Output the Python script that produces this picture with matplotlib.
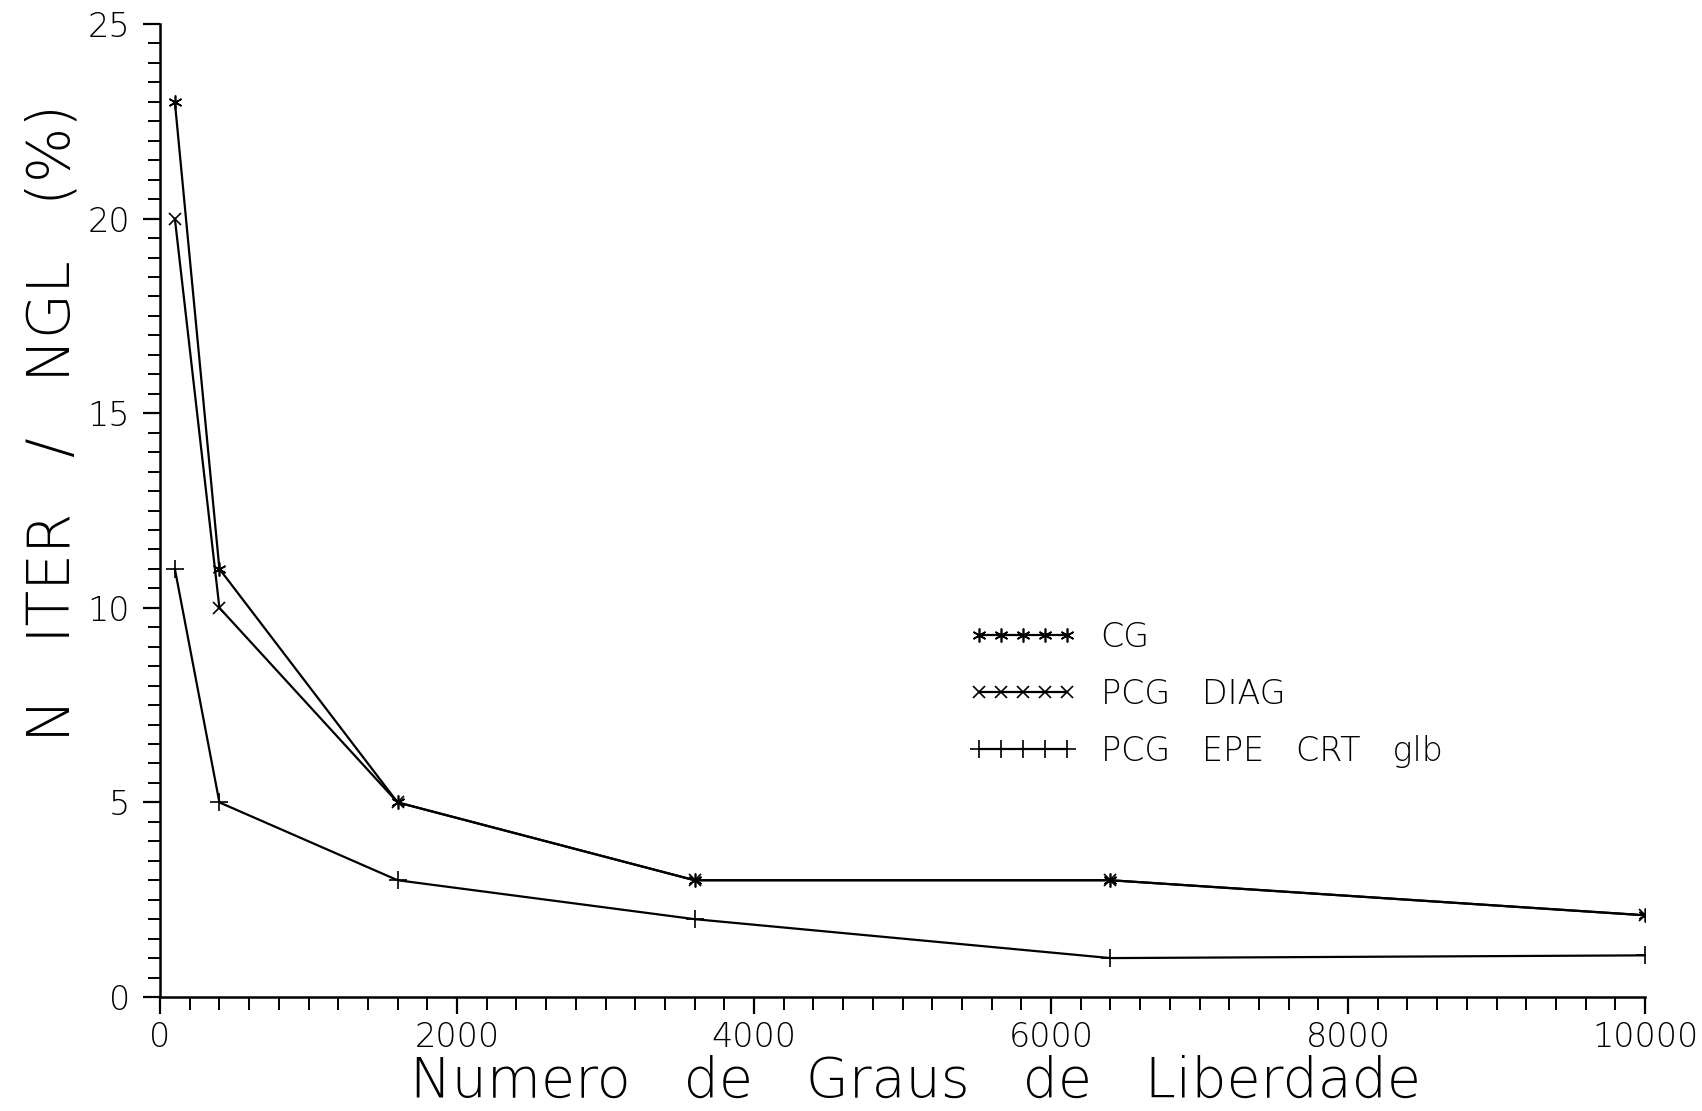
import matplotlib
matplotlib.use("Agg")
import matplotlib.pyplot as plt
from matplotlib.ticker import MultipleLocator

plt.rcParams['font.family'] = ['DejaVu Sans']

# Data
ngl = [100, 400, 1600, 3600, 6400, 10000]
cg = [23, 11, 5, 3, 3, 2.1]
pcg_diag = [20, 10, 5, 3, 3, 2.1]
pcg_epe = [11, 5, 3, 2, 1.0, 1.07]
labels = ["CG", "PCG   DIAG", "PCG   EPE   CRT   glb"]
xlabel = "Numero   de   Graus   de   Liberdade"
ylabel = "N   ITER   /   NGL   (%)"

W, H = 1702, 1111
fig = plt.figure(figsize=(W / 100, H / 100), dpi=100)
ax = fig.add_axes([160 / W, 1 - 997 / H, (1645 - 160) / W, (997 - 24) / H])

lw = 1.6
ax.plot(ngl, cg, color='black', lw=lw, marker=(6, 2, 0), ms=10, mew=1.2, label=labels[0])
ax.plot(ngl, pcg_diag, color='black', lw=lw, marker='x', ms=8, mew=1.2, label=labels[1])
ax.plot(ngl, pcg_epe, color='black', lw=lw, marker='+', ms=13, mew=1.2, label=labels[2])

ax.set_xlim(0, 10000)
ax.set_ylim(0, 25)
ax.xaxis.set_major_locator(MultipleLocator(2000))
ax.xaxis.set_minor_locator(MultipleLocator(200))
ax.yaxis.set_major_locator(MultipleLocator(5))
ax.yaxis.set_minor_locator(MultipleLocator(0.5))

for s in ['top', 'right']:
    ax.spines[s].set_visible(False)
for s in ['left', 'bottom']:
    ax.spines[s].set_linewidth(1.8)

ax.tick_params(axis='both', which='major', direction='out', length=12.5, width=1.6,
               labelsize=24, color='black')
ax.tick_params(axis='both', which='minor', direction='out', length=9, width=1.4, color='black')
ax.tick_params(axis='x', which='major', pad=5)
ax.tick_params(axis='y', which='major', pad=9)
for lab in ax.get_xticklabels() + ax.get_yticklabels():
    lab.set_fontweight('light')

ax.set_xlabel(xlabel, fontsize=40, fontweight='light', va='baseline')
ax.xaxis.set_label_coords((916 - 160) / 1485, -(1097 - 997) / 973)
ax.set_ylabel(ylabel, fontsize=42, fontweight='light', rotation=90, ha='center', va='center')
ax.yaxis.set_label_coords((53 - 160) / 1485, (997 - 423) / 973)

leg = ax.legend(loc='upper left', bbox_to_anchor=(969 / W, 1 - 621 / H),
                bbox_transform=fig.transFigure, frameon=False, borderpad=0,
                borderaxespad=0, numpoints=5, handlelength=3.25, handletextpad=0.7,
                labelspacing=0.72, prop={'size': 24, 'weight': 'light'})

fig.savefig("out.png", dpi=100, facecolor='white')
